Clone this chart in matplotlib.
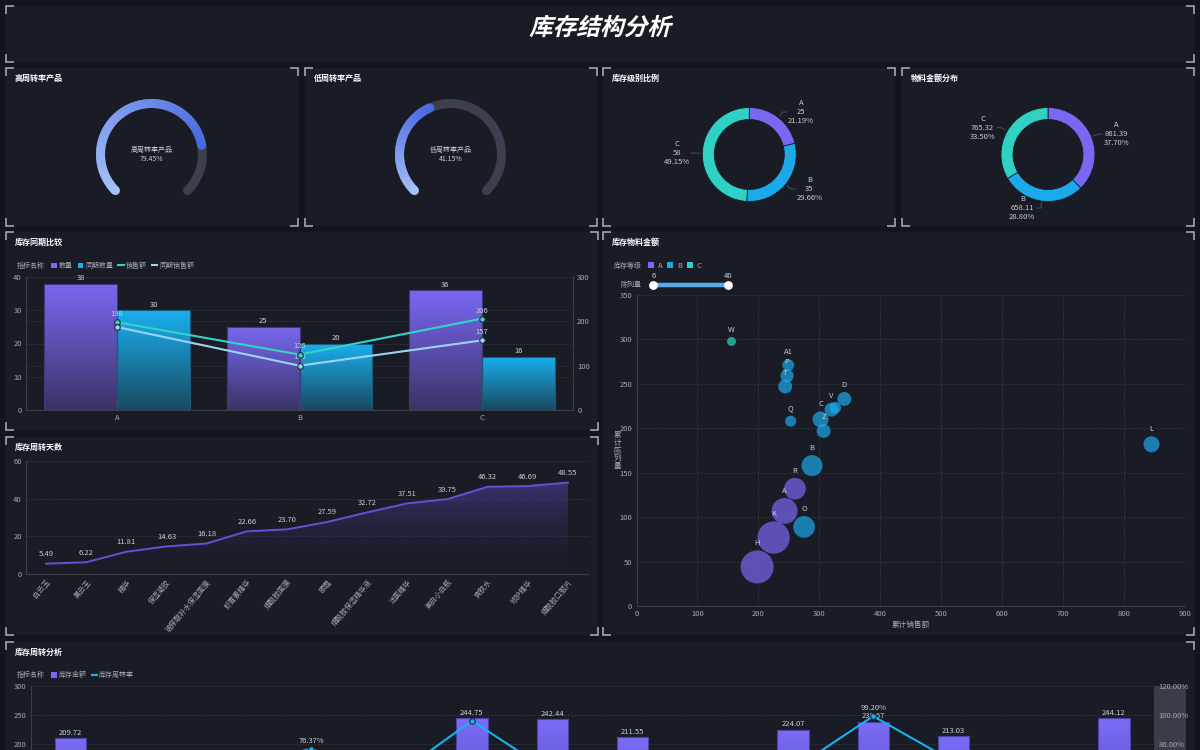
import numpy as np
import matplotlib
matplotlib.use("Agg")
import matplotlib.pyplot as plt
import matplotlib.ticker as mticker
from matplotlib.patches import Rectangle, Wedge, Circle, Patch
from matplotlib.lines import Line2D
from matplotlib.colors import LinearSegmentedColormap, to_rgb
from matplotlib.transforms import Affine2D
from matplotlib.patheffects import AbstractPathEffect

plt.rcParams['font.family'] = ['Noto Sans CJK SC', 'DejaVu Sans']
plt.rcParams['axes.unicode_minus'] = False

W, H = 1200, 750

# ---------------- data ----------------
gauge_names = ['高周转率产品', '低周转率产品']
gauge_rates = [79.45, 41.15]

level_names = ['A', 'B', 'C']
level_counts = [25, 35, 58]
level_amounts = [861.39, 658.11, 765.32]

cmp_cats = ['A', 'B', 'C']
cmp_qty = [38, 25, 36]
cmp_qty_last = [30, 20, 16]
cmp_sales = [198, 125, 206]
cmp_sales_last = [187, 100, 157]

products = ['白云玉', '黑云玉', '精华', '保湿凝胶', '玻尿酸补水保湿面膜', '虾青素精华', '烟酰胺面膜',
            '眼霜', '烟酰胺保湿精华液', '洁面精华', '美白小白瓶', '爽肤水', '修护精华', '烟酰胺口服片']
turn_days = [5.49, 6.22, 11.81, 14.63, 16.18, 22.66, 23.70, 27.59, 32.72, 37.51, 39.75, 46.32, 46.69, 48.55]

sc_names = ['W', 'A1', 'P', 'T', 'Q', 'C', 'Z', 'V', 'U', 'D', 'L', 'B', 'R', 'A', 'O', 'K', 'H']
sc_level = ['C', 'B', 'B', 'B', 'B', 'B', 'B', 'B', 'B', 'B', 'B', 'B', 'A', 'A', 'B', 'A', 'A']
sc_sales = [155, 249, 247, 244, 253, 302, 307, 320, 326, 341, 845, 288, 260, 243, 275, 225, 198]
sc_display = [298, 271, 259, 247, 208, 210, 197, 221, 223, 233, 182, 158, 132, 107, 89, 77, 44]
sc_qty = [6, 10, 12, 13, 9, 16, 13, 13, 10, 13, 16, 23, 24, 30, 24, 39, 40]

turn_amount = [209.72, 152.30, 160.80, 145.60, 163.20, 244.75, 242.44, 211.55, 155.90, 224.07,
               238.67, 213.03, 148.70, 244.12]
turn_rate = [62.50, 48.30, 64.10, 76.37, 55.70, 96.00, 59.40, 45.80, 52.60, 62.00, 99.20, 67.50,
             58.30, 66.40]

# ---------------- styles ----------------
BG = '#13151c'
PANEL = '#1a1c25'
BRACKET = '#aeb2ba'
TXT = '#c8ccd4'
TICK = '#a4a8b2'
GRID = '#363a46'
SPINE = '#3a3e4a'
TRACK = '#3d3f4f'
LEVEL_COLORS = ['#7868f2', '#1ba9ea', '#2fd2c2']


def fr(x0, y0, x1, y1):
    return [x0 / W, 1 - y1 / H, (x1 - x0) / W, (y1 - y0) / H]


def lerp(c1, c2, t):
    a, b = np.array(to_rgb(c1)), np.array(to_rgb(c2))
    return a + (b - a) * t


def style_ax(ax, spines=('left', 'bottom')):
    ax.set_facecolor('none')
    for k, s in ax.spines.items():
        s.set_visible(k in spines)
        s.set_color(SPINE)
        s.set_linewidth(0.8)
    ax.tick_params(length=0, labelsize=5.5, colors=TICK, pad=3)


def grad_fill(ax, bars, c_top, c_bot):
    cmap = LinearSegmentedColormap.from_list('g', [c_bot, c_top])
    grad = np.linspace(0, 1, 64).reshape(-1, 1)
    for b in bars:
        x, y, w, h = b.get_x(), b.get_y(), b.get_width(), b.get_height()
        im = ax.imshow(grad, extent=[x, x + w, y, y + h], origin='lower', aspect='auto',
                       cmap=cmap, zorder=b.get_zorder() - 0.1)
        im.set_clip_path(b)
        b.set_facecolor('none')


class Slant(AbstractPathEffect):
    def draw_path(self, renderer, gc, tpath, affine, rgbFace=None):
        m = affine.get_matrix()
        tx, ty = m[0, 2], m[1, 2]
        sk = affine + Affine2D().translate(-tx, -ty).skew_deg(14, 0).translate(tx, ty)
        renderer.draw_path(gc, tpath, sk, rgbFace)


fig = plt.figure(figsize=(12, 7.5), dpi=100, facecolor=BG)
bg = fig.add_axes([0, 0, 1, 1], zorder=-10)
bg.set_xlim(0, W)
bg.set_ylim(H, 0)
bg.axis('off')

panels = [(6, 6, 1194, 62), (6, 68, 298, 226), (305, 68, 597, 226), (603, 68, 895, 226),
          (902, 68, 1194, 226), (6, 232, 598, 430), (6, 437, 598, 635), (603, 232, 1194, 635),
          (6, 642, 1194, 762)]
for x0, y0, x1, y1 in panels:
    bg.add_patch(Rectangle((x0, y0), x1 - x0, y1 - y0, facecolor=PANEL, edgecolor='none'))
    L = 8
    for cx, cy, sx, sy in [(x0, y0, 1, 1), (x1, y0, -1, 1), (x0, y1, 1, -1), (x1, y1, -1, -1)]:
        bg.plot([cx + sx * L, cx, cx], [cy, cy, cy + sy * L], color=BRACKET, lw=1.1,
                solid_capstyle='butt', solid_joinstyle='miter')

# gray band behind right axis of bottom chart
bg.add_patch(Rectangle((1154, 685.7), 31.5, 70, facecolor='#3a3d47', edgecolor='none'))

fig.text(0.5, 1 - 28 / H, '库存结构分析', ha='center', va='center', fontsize=17,
         fontweight='bold', color='white', path_effects=[Slant()])

titles = [(15, 78, '高周转率产品'), (314, 78, '低周转率产品'), (612, 78, '库存级别比例'),
          (911, 78, '物料金额分布'), (15, 242, '库存同期比较'), (15, 447, '库存周转天数'),
          (612, 242, '库存物料金额'), (15, 652, '库存周转分析')]
for tx, ty, t in titles:
    bg.text(tx, ty, t, ha='left', va='center', fontsize=5.8, fontweight='bold', color='white')

# ---------------- gauges ----------------
G_LIGHT, G_DARK = '#a6c2fb', '#4a69e2'


def draw_gauge(cx, cy, name, rate):
    R, w = 55.5, 9
    ax = fig.add_axes(fr(cx - 70, cy - 70, cx + 70, cy + 70))
    ax.set_xlim(-70, 70)
    ax.set_ylim(-70, 70)
    ax.axis('off')
    rm = R - w / 2

    def cap(ang, col):
        a = np.radians(ang)
        ax.add_patch(Circle((rm * np.cos(a), rm * np.sin(a)), w / 2, color=col, lw=0))

    ax.add_patch(Wedge((0, 0), R, -45, 225, width=w, color=TRACK, lw=0))
    cap(-45, TRACK)
    end = 225 - 270 * rate / 100
    n = 90
    edges = np.linspace(225, end, n + 1)
    for i in range(n):
        col = lerp(G_LIGHT, G_DARK, (i + 0.5) / n)
        a1, a2 = sorted([edges[i], edges[i + 1]])
        ax.add_patch(Wedge((0, 0), R, a1 - 0.3, a2 + 0.3, width=w, color=col, lw=0))
    cap(225, G_LIGHT)
    cap(end, G_DARK)
    ax.text(0, 0, f'{name}\n{rate:.2f}%', ha='center', va='center', fontsize=5, color=TXT,
            linespacing=1.15)


draw_gauge(151.5, 154.5, gauge_names[0], gauge_rates[0])
draw_gauge(450.5, 154.5, gauge_names[1], gauge_rates[1])


# ---------------- donuts ----------------
def draw_donut(cx, cy, values, fmt):
    ax = fig.add_axes(fr(cx - 110, cy - 75, cx + 110, cy + 75))
    wedges, _ = ax.pie(values, radius=47, startangle=90, counterclock=False, colors=LEVEL_COLORS,
                       wedgeprops=dict(width=12, edgecolor=PANEL, linewidth=0.6))
    ax.set_xlim(-110, 110)
    ax.set_ylim(-75, 75)
    ax.set_aspect('equal')
    ax.axis('off')
    total = sum(values)
    for wdg, name, v in zip(wedges, level_names, values):
        mid = np.radians((wdg.theta1 + wdg.theta2) / 2)
        c, s = np.cos(mid), np.sin(mid)
        sgn = 1 if c >= 0 else -1
        p1 = (49 * c, 49 * s)
        p2 = (54 * c, 54 * s)
        p3 = (p2[0] + sgn * 4, p2[1])
        ax.plot([p1[0], p2[0], p3[0]], [p1[1], p2[1], p3[1]], color='#3e5566', lw=0.7)
        ax.text(p3[0] + sgn * 1.5, p3[1], f'{name}\n{fmt(v)}\n{v / total * 100:.2f}%',
                ha='left' if sgn > 0 else 'right', va='center', multialignment='center',
                fontsize=5.5, color=TXT, linespacing=1.2)


draw_donut(749.3, 154.5, level_counts, lambda v: f'{v}')
draw_donut(1048, 154.5, level_amounts, lambda v: f'{v:.2f}')

# ---------------- 库存同期比较 ----------------
ax1 = fig.add_axes(fr(26, 277, 573, 410))
style_ax(ax1, ('left', 'bottom'))
x = np.arange(len(cmp_cats))
b1 = ax1.bar(x - 0.2, cmp_qty, 0.4, edgecolor='#3f3a7a', linewidth=0.8, zorder=2)
b2 = ax1.bar(x + 0.2, cmp_qty_last, 0.4, edgecolor='#1b5a78', linewidth=0.8, zorder=2)
grad_fill(ax1, b1, '#7868f2', '#3b3466')
grad_fill(ax1, b2, '#19b0ee', '#1a4a62')
ax1.bar_label(b1, fontsize=5.5, color=TXT, padding=1)
ax1.bar_label(b2, fontsize=5.5, color=TXT, padding=1)
ax1.set_xlim(-0.5, 2.5)
ax1.set_ylim(0, 40)
ax1.set_xticks(x, cmp_cats)
ax1.set_yticks([0, 10, 20, 30, 40])
ax1.yaxis.set_minor_locator(mticker.FixedLocator([100 * 40 / 300, 200 * 40 / 300]))
ax1.tick_params(which='minor', length=0)
ax1.grid(axis='y', which='both', color=GRID, lw=0.6, ls=(0, (2, 2)))
ax1.set_axisbelow(True)

ax1r = ax1.twinx()
style_ax(ax1r, ('right',))
ax1r.set_ylim(0, 300)
ax1r.set_yticks([0, 100, 200, 300])
ax1r.plot(x, cmp_sales, color='#34d3c6', lw=1.5, marker='o', ms=4, mfc='#34d3c6', mec='#1d2a33',
          mew=0.8, zorder=4)
ax1r.plot(x, cmp_sales_last, color='#9cd3f5', lw=1.5, marker='o', ms=4, mfc='#9cd3f5',
          mec='#1d2a33', mew=0.8, zorder=4)
for xi_, v, v2 in zip(x, cmp_sales, cmp_sales_last):
    ax1r.annotate(f'{v}', (xi_, v), xytext=(0, 3), textcoords='offset points', ha='center',
                  va='bottom', fontsize=5.5, color=TXT)
    if abs(v - v2) >= 15:
        ax1r.annotate(f'{v2}', (xi_, v2), xytext=(0, 3), textcoords='offset points',
                      ha='center', va='bottom', fontsize=5.5, color=TXT)

bg.text(17, 266, '指标名称', ha='left', va='center', fontsize=5, color=TICK)
ax1r.legend([Patch(fc='#7868f2'), Patch(fc='#19b0ee'), Line2D([], [], color='#34d3c6', lw=1.5),
             Line2D([], [], color='#9cd3f5', lw=1.5)],
            ['数量', '同期数量', '销售额', '同期销售额'], loc='center left',
            bbox_to_anchor=(51 / W, 1 - 266 / H), bbox_transform=fig.transFigure, ncol=4,
            frameon=False, fontsize=5, labelcolor=TICK, handlelength=0.8, handleheight=0.8,
            handletextpad=0.3, columnspacing=0.7, borderpad=0, borderaxespad=0)

# ---------------- 库存周转天数 ----------------
ax2 = fig.add_axes(fr(26, 461, 588, 574))
style_ax(ax2, ('left', 'bottom'))
xi = np.arange(len(products))
ax2.plot(xi, turn_days, color='#6152d6', lw=1.4, zorder=3)
poly = ax2.fill_between(xi, turn_days, 0, color='none', lw=0)
area_cmap = LinearSegmentedColormap.from_list(
    'area', [(0.15, 0.14, 0.28, 0.0), (0.33, 0.27, 0.68, 0.55)])
im = ax2.imshow(np.linspace(0, 1, 100).reshape(-1, 1), extent=[xi[0], xi[-1], 0, max(turn_days)],
                origin='lower', aspect='auto', cmap=area_cmap, zorder=2)
im.set_clip_path(poly.get_paths()[0], ax2.transData)
for a, v in zip(xi, turn_days):
    ax2.annotate(f'{v:.2f}', (a, v), xytext=(0, 4), textcoords='offset points', ha='center',
                 va='bottom', fontsize=5.5, color=TXT)
ax2.set_xlim(-0.5, len(products) - 0.5)
ax2.set_ylim(0, 60)
ax2.set_yticks([0, 20, 40, 60])
ax2.set_xticks(xi, products, rotation=50, ha='right', rotation_mode='anchor', fontsize=5.2)
ax2.grid(axis='y', color=GRID, lw=0.6, ls=(0, (2, 2)))
ax2.set_axisbelow(True)

# ---------------- 库存物料金额 ----------------
ax3 = fig.add_axes(fr(636.5, 295, 1185, 606))
style_ax(ax3, ('left', 'bottom'))
ax3.set_xlim(0, 900)
ax3.set_ylim(0, 350)
ax3.set_xticks(range(0, 901, 100))
ax3.set_yticks(range(0, 351, 50))
ax3.grid(color=GRID, lw=0.6, ls=(0, (2, 2)))
ax3.set_axisbelow(True)

q_min, q_max = min(sc_qty), max(sc_qty)


def diam(q):
    return 9 + (q - q_min) / (q_max - q_min) * 24


for lvl, col in zip(level_names, LEVEL_COLORS):
    idx = [i for i, l in enumerate(sc_level) if l == lvl]
    ax3.scatter([sc_sales[i] for i in idx], [sc_display[i] for i in idx],
                s=[(diam(sc_qty[i]) * 0.72) ** 2 for i in idx], color=col, alpha=0.7, lw=0,
                zorder=3)

placed = []
for name, sx, sy, q in zip(sc_names, sc_sales, sc_display, sc_qty):
    px, py = ax3.transData.transform((sx, sy))
    py += diam(q) / 2 + 5
    if any(abs(px - a) < 6 and abs(py - b) < 6 for a, b in placed):
        continue
    placed.append((px, py))
    ax3.annotate(name, (sx, sy), xytext=(0, (diam(q) / 2 + 3) * 0.72), textcoords='offset points',
                 ha='center', va='bottom', fontsize=5.5, color=TXT)

ax3.set_xlabel('累计销售额', fontsize=5.5, color=TICK)
ax3.xaxis.set_label_coords(0.5, -15 / 311)
ax3.set_ylabel('\n'.join('累计陈列量'), fontsize=5.5, color=TICK, rotation=0, va='center',
               ha='center', linespacing=0.95)
ax3.yaxis.set_label_coords(-19.5 / 548.5, 0.5)

bg.text(614, 265.5, '库存等级', ha='left', va='center', fontsize=5, color=TICK)
ax3.legend([Patch(fc=c) for c in LEVEL_COLORS], level_names, loc='center left',
           bbox_to_anchor=(648 / W, 1 - 265.5 / H), bbox_transform=fig.transFigure, ncol=3,
           frameon=False, fontsize=5.5, labelcolor=TICK, handlelength=0.8, handleheight=0.8,
           handletextpad=0.5, columnspacing=0.6, borderpad=0, borderaxespad=0)

# size slider legend
bg.text(641, 284.5, '陈列量', ha='right', va='center', fontsize=5, color=TICK)
bg.plot([653.3, 728], [284.5, 284.5], color='#5aa8e8', lw=3.2, solid_capstyle='butt')
bg.scatter([653.3, 728], [284.5, 284.5], s=40, color='white', zorder=5, lw=0)
bg.text(653.3, 276, f'{q_min}', ha='center', va='center', fontsize=5.5, color=TXT)
bg.text(728, 276, f'{q_max}', ha='center', va='center', fontsize=5.5, color=TXT)

# ---------------- 库存周转分析 ----------------
ax4 = fig.add_axes(fr(30.6, 686.3, 1154, 858.5))
style_ax(ax4, ('left', 'bottom'))
b4 = ax4.bar(xi, turn_amount, 0.39, edgecolor='#4b43a6', linewidth=0.8, zorder=2)
grad_fill(ax4, b4, '#7a6cf5', '#4a3fa8')
ax4.bar_label(b4, labels=[f'{v:.2f}' for v in turn_amount], fontsize=5.5, color=TXT, padding=1)
ax4.set_xlim(-0.5, len(products) - 0.5)
ax4.set_ylim(0, 300)
ax4.set_yticks(range(0, 301, 50))
ax4.set_xticks(xi)
ax4.tick_params(axis='x', labelbottom=False)
ax4.grid(axis='y', color=GRID, lw=0.6, ls=(0, (2, 2)))
ax4.set_axisbelow(True)

ax4r = ax4.twinx()
style_ax(ax4r, ())
ax4r.set_ylim(0, 1.2)
ax4r.set_yticks(np.arange(0, 1.21, 0.2))
ax4r.yaxis.set_major_formatter(mticker.FuncFormatter(lambda v, _: f'{v * 100:.2f}%'))
rate = np.array(turn_rate) / 100
ax4r.plot(xi, rate, color='#1bb0ee', lw=1.5, marker='o', ms=4, mfc='#1bb0ee', mec='#1d2a33',
          mew=0.8, zorder=4)
for a, r, amt in zip(xi, rate, turn_amount):
    if abs(amt / 300 - r / 1.2) < 0.025:
        continue
    ax4r.annotate(f'{r * 100:.2f}%', (a, r), xytext=(0, 3), textcoords='offset points',
                  ha='center', va='bottom', fontsize=5.5, color=TXT)

bg.text(17, 675.3, '指标名称', ha='left', va='center', fontsize=5, color=TICK)
ax4r.legend([Patch(fc='#7868f2'), Line2D([], [], color='#1bb0ee', lw=1.5)], ['库存金额', '库存周转率'],
            loc='center left', bbox_to_anchor=(51 / W, 1 - 675.3 / H),
            bbox_transform=fig.transFigure, ncol=2, frameon=False, fontsize=5, labelcolor=TICK,
            handlelength=0.8, handleheight=0.8, handletextpad=0.3, columnspacing=0.7,
            borderpad=0, borderaxespad=0)

fig.savefig('out.png', dpi=100, facecolor=BG)
